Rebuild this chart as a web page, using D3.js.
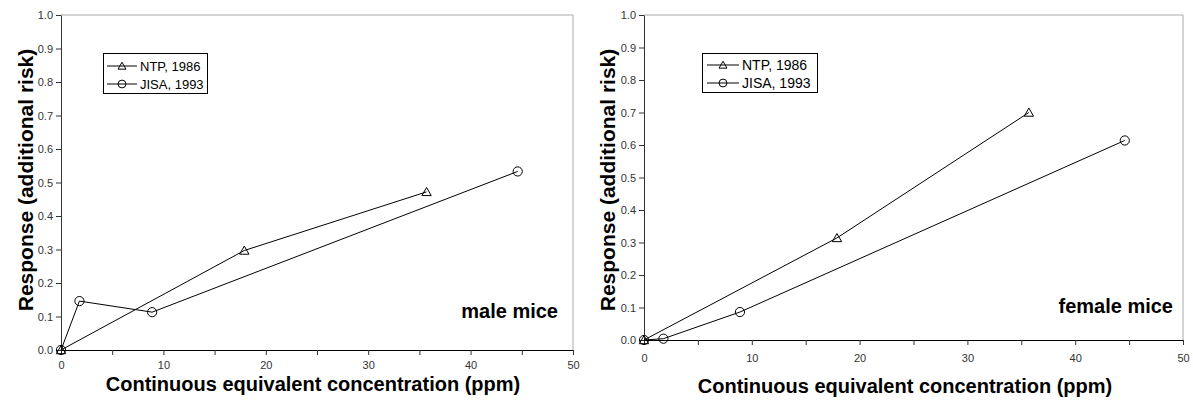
<!DOCTYPE html>
<html>
<head>
<meta charset="utf-8">
<script src="https://cdn.jsdelivr.net/npm/d3@7"></script>
<style>
  html, body { margin: 0; padding: 0; background: #fff; }
  svg { display: block; font-family: Arial, "Liberation Sans", sans-serif; }
</style>
</head>
<body>
<svg id="chart" width="1193" height="400"></svg>
<script>
// ---- data ----
const seriesNames = ["NTP, 1986", "JISA, 1993"];
const concNTP = [0, 17.9, 35.7];
const concJISA = [0, 1.8, 8.9, 44.6];
const maleNTP = [0, 0.297, 0.472];
const maleJISA = [0, 0.146, 0.113, 0.533];
const femaleNTP = [0, 0.314, 0.700];
const femaleJISA = [0, 0.004, 0.086, 0.614];
const panelLabels = ["male mice", "female mice"];
const xTickValues = [0, 10, 20, 30, 40, 50];
const yTickValues = [0, 0.1, 0.2, 0.3, 0.4, 0.5, 0.6, 0.7, 0.8, 0.9, 1.0];
const xTitle = "Continuous equivalent concentration (ppm)";
const yTitle = "Response (additional risk)";

// ---- layout ----
const panels = [
  { label: panelLabels[0], ntp: maleNTP, jisa: maleJISA,
    x0: 61, x1: 573, yTop: 15, yBot: 350,
    xTickLabelY: 366, xTitleY: 391, xTitleX: 313, yTitleX: 33, yTitleY: 180,
    labelX: 558, labelY: 318,
    legend: { x: 103, y: 53, w: 104, h: 40, row1: 66, row2: 84, lx0: 107, lx1: 137, tx: 140, fs: 13 } },
  { label: panelLabels[1], ntp: femaleNTP, jisa: femaleJISA,
    x0: 644, x1: 1183, yTop: 15, yBot: 340,
    xTickLabelY: 359, xTitleY: 393, xTitleX: 905, yTitleX: 615, yTitleY: 180,
    labelX: 1173, labelY: 313,
    legend: { x: 702, y: 53, w: 115, h: 39, row1: 65, row2: 83, lx0: 707, lx1: 739, tx: 742, fs: 14 } }
];

const svg = d3.select("#chart");
const triPath = d3.symbol().type(d3.symbolTriangle);
function drawMarker(g, type, cx, cy, scale) {
  if (type === "tri") {
    g.append("path")
      .attr("d", triPath.size(38 * scale * scale)())
      .attr("transform", `translate(${cx},${cy + 1 * scale})`)
      .attr("fill", "none").attr("stroke", "#000").attr("stroke-width", 1);
  } else {
    g.append("circle").attr("cx", cx).attr("cy", cy).attr("r", 4.6 * scale)
      .attr("fill", "none").attr("stroke", "#000").attr("stroke-width", 1);
  }
}

panels.forEach(p => {
  const x = d3.scaleLinear().domain([0, 50]).range([p.x0, p.x1]);
  const y = d3.scaleLinear().domain([0, 1]).range([p.yBot, p.yTop]);
  const g = svg.append("g");

  // frame: top and right gray
  g.append("line").attr("x1", p.x0).attr("x2", p.x1).attr("y1", p.yTop).attr("y2", p.yTop)
    .attr("stroke", "#aaa").attr("stroke-width", 1);
  g.append("line").attr("x1", p.x1).attr("x2", p.x1).attr("y1", p.yTop).attr("y2", p.yBot)
    .attr("stroke", "#aaa").attr("stroke-width", 1);

  // y axis
  const yAxis = d3.axisLeft(y).tickValues(yTickValues).tickFormat(d3.format(".1f"))
    .tickSize(5).tickSizeOuter(0).tickPadding(3);
  const ya = g.append("g").attr("transform", `translate(${p.x0},0)`).call(yAxis);
  ya.selectAll("text").attr("font-size", 11).attr("fill", "#333")
    .attr("font-family", "Arial, 'Liberation Sans', sans-serif");
  ya.selectAll("line").attr("stroke", "#333");
  ya.select(".domain").attr("stroke", "#333");

  // x axis: ticks every 5, labels every 10
  const xAxis = d3.axisBottom(x).tickValues(d3.range(0, 51, 5))
    .tickFormat(d => (xTickValues.includes(d) ? d : "")).tickSize(5).tickSizeOuter(0).tickPadding(3);
  const xa = g.append("g").attr("transform", `translate(0,${p.yBot})`).call(xAxis);
  xa.selectAll("text").attr("font-size", 11).attr("fill", "#333")
    .attr("font-family", "Arial, 'Liberation Sans', sans-serif")
    .attr("y", null).attr("dy", null)
    .attr("transform", `translate(0,${p.xTickLabelY - p.yBot})`)
    .attr("dominant-baseline", "middle");
  xa.selectAll("line").attr("stroke", "#333");
  xa.select(".domain").attr("stroke", "#000");

  // axis titles
  g.append("text").attr("x", p.xTitleX).attr("y", p.xTitleY).attr("text-anchor", "middle")
    .attr("font-size", 20).attr("font-weight", "bold").attr("fill", "#000").text(xTitle);
  g.append("text").attr("transform", `translate(${p.yTitleX},${p.yTitleY}) rotate(-90)`)
    .attr("text-anchor", "middle").attr("font-size", 21).attr("font-weight", "bold")
    .attr("fill", "#000").text(yTitle);

  // lines
  const line = d3.line().x(d => x(d[0])).y(d => y(d[1]));
  const ntpPts = concNTP.map((c, i) => [c, p.ntp[i]]);
  const jisaPts = concJISA.map((c, i) => [c, p.jisa[i]]);
  g.append("path").attr("d", line(ntpPts)).attr("fill", "none").attr("stroke", "#000").attr("stroke-width", 1);
  g.append("path").attr("d", line(jisaPts)).attr("fill", "none").attr("stroke", "#000").attr("stroke-width", 1);
  ntpPts.forEach(d => drawMarker(g, "tri", x(d[0]), y(d[1]), 1));
  jisaPts.forEach(d => drawMarker(g, "circ", x(d[0]), y(d[1]), 1));

  // panel label
  g.append("text").attr("x", p.labelX).attr("y", p.labelY).attr("text-anchor", "end")
    .attr("font-size", 20).attr("font-weight", "bold").attr("fill", "#000").text(p.label);

  // legend
  const L = p.legend;
  g.append("rect").attr("x", L.x + 0.5).attr("y", L.y + 0.5).attr("width", L.w).attr("height", L.h)
    .attr("fill", "#fff").attr("stroke", "#000").attr("stroke-width", 1);
  [[seriesNames[0], "tri", L.row1], [seriesNames[1], "circ", L.row2]].forEach(([name, type, ry]) => {
    g.append("line").attr("x1", L.lx0).attr("x2", L.lx1).attr("y1", ry).attr("y2", ry)
      .attr("stroke", "#000").attr("stroke-width", 1);
    drawMarker(g, type, (L.lx0 + L.lx1) / 2, ry, 0.85);
    g.append("text").attr("x", L.tx).attr("y", ry).attr("dominant-baseline", "central")
      .attr("font-size", L.fs).attr("fill", "#000").text(name);
  });
});
</script>
</body>
</html>
